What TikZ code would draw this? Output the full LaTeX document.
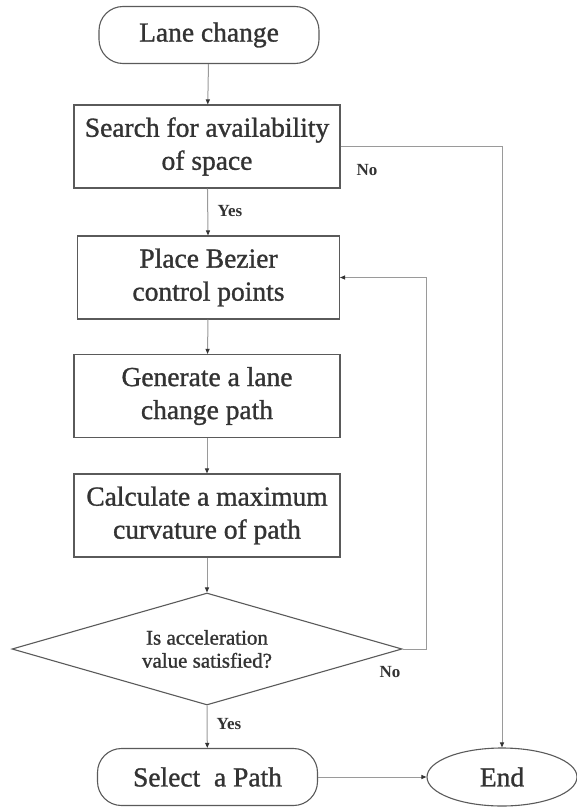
\documentclass[tikz,border=0pt]{standalone}
\usepackage{fontspec}
\setmainfont{Liberation Serif}
\newfontfamily\boxfont{Liberation Serif}[FakeBold=1.1]
\usetikzlibrary{shapes.geometric,arrows.meta}
\definecolor{inkgray}{HTML}{333333}
\definecolor{framegray}{HTML}{5A5A5A}
\definecolor{wiregray}{HTML}{9A9A9A}
\begin{document}
\begin{tikzpicture}[x=1pt,y=-1pt,
  every node/.style={text=inkgray},
  procbox/.style={draw=framegray,line width=1.1pt,rectangle,minimum width=266pt,
    minimum height=83pt,align=center,font=\boxfont\fontsize{27.5}{33}\selectfont,inner sep=0pt},
  terminal/.style={draw=framegray,line width=1.1pt,rectangle,rounded corners=24pt,
    minimum width=220pt,minimum height=57pt,font=\boxfont\fontsize{27.5}{30}\selectfont,inner sep=0pt},
  decision/.style={draw=framegray,line width=1.1pt,diamond,aspect=3.48,
    minimum width=390pt,minimum height=112pt,align=center,
    font=\boxfont\fontsize{21}{23}\selectfont,inner sep=0pt},
  endcap/.style={draw=framegray,line width=1.1pt,ellipse,minimum width=150pt,
    minimum height=58pt,font=\boxfont\fontsize{27.5}{30}\selectfont,inner sep=0pt},
  wire/.style={draw=wiregray,line width=1pt,
    -{Triangle[length=5pt,width=4pt,fill=inkgray,color=inkgray]}},
  lbl/.style={font=\bfseries\fontsize{17}{20}\selectfont}]
\useasboundingbox (0,0) rectangle (577,808);
\fill[white] (0,0) rectangle (577,808);

\node[terminal] (start) at (209,35) {Lane change};
\node[procbox] (search) at (207,146.5) {Search for availability\\of space};
\node[procbox,minimum width=262pt] (place) at (208.5,277.5) {Place Bezier\\control points};
\node[procbox] (gen) at (207,396) {Generate a lane\\change path};
\node[procbox] (calc) at (207,515.5) {Calculate a maximum\\curvature of path};
\node[decision] (dec) at (207,649) {Is acceleration\\value satisfied?};
\node[terminal] (sel) at (207.5,777) {Select\ \ a Path};
\node[endcap] (end) at (502,777) {End};

\coordinate (noA) at (502,146.5);
\coordinate (loopA) at (426,649);
\coordinate (loopB) at (426,277.5);

\draw[wire] (start) -- (search);
\draw[wire] (search) -- (place);
\draw[wire] (place) -- (gen);
\draw[wire] (gen) -- (calc);
\draw[wire] (calc) -- (dec.north);
\draw[wire] (dec.south) -- (sel);
\draw[wire] (sel) -- (end);
\draw[wire] (search.east) -- (noA) -- (end.north);
\draw[wire] (dec.east) -- (loopA) -- (loopB) -- (place.east);

\node[lbl] (yes1) at (230,211) {Yes};
\node[lbl] (no1) at (367,170) {No};
\node[lbl] (no2) at (390,672) {No};
\node[lbl] (yes2) at (229,724) {Yes};
\end{tikzpicture}
\end{document}
